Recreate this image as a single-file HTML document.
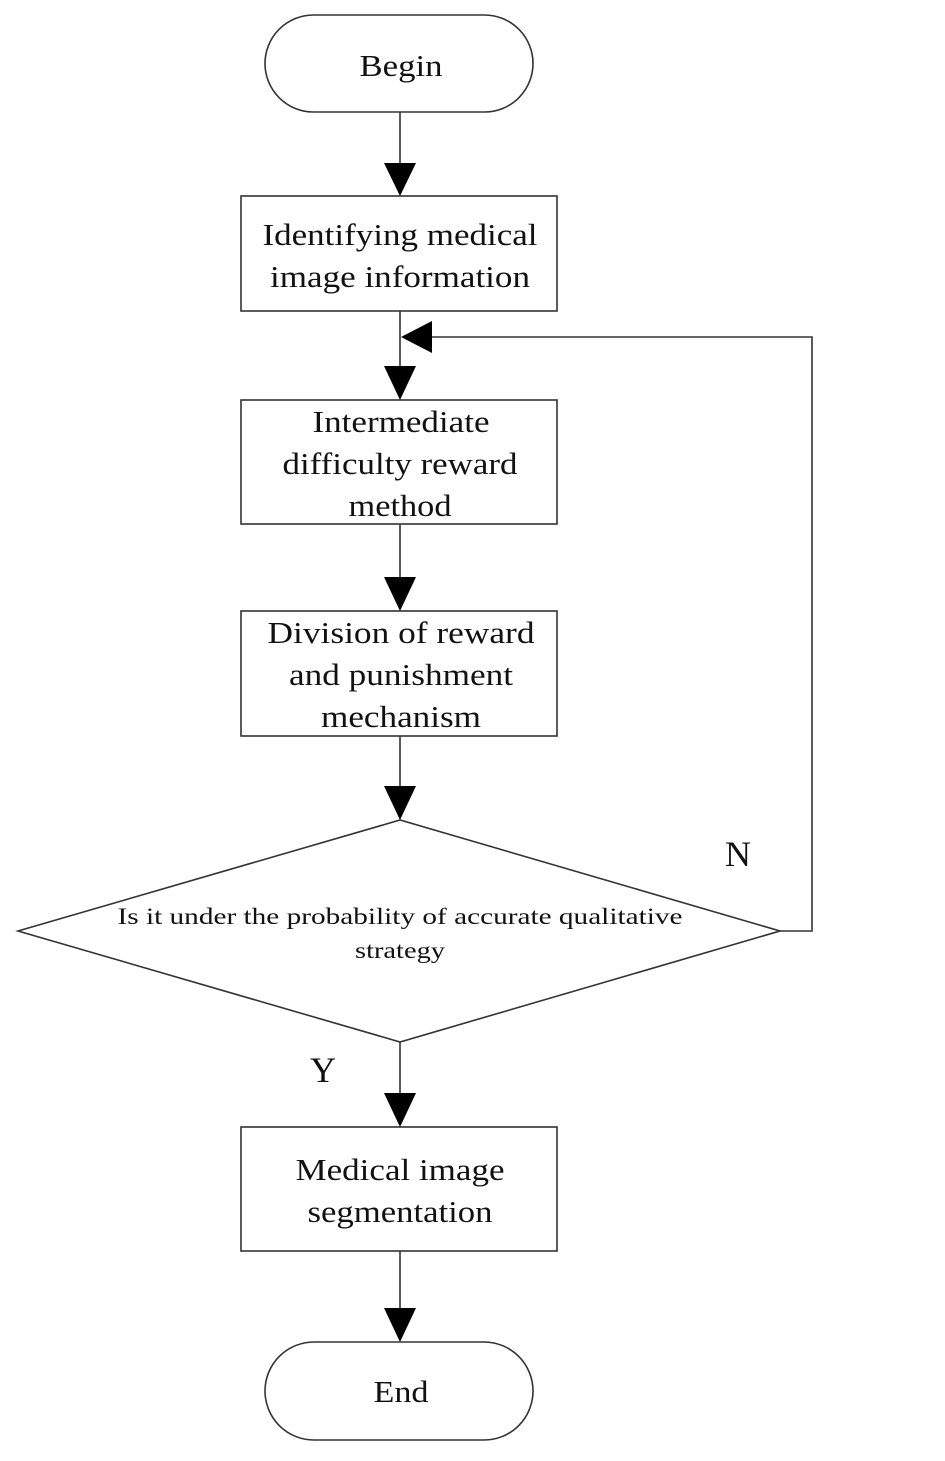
<!DOCTYPE html>
<html><head><meta charset="utf-8"><style>
html,body{margin:0;padding:0;background:#fff;}
svg{display:block;}
text{font-family:"Liberation Serif",serif;fill:#111;}
</style></head><body>
<svg width="945" height="1461" viewBox="0 0 945 1461" xmlns="http://www.w3.org/2000/svg">
<g stroke="#333" stroke-width="1.6" fill="none">
<rect x="265" y="15" width="268" height="97" rx="48.5"/>
<rect x="241" y="196" width="316" height="115"/>
<rect x="241" y="400" width="316" height="124"/>
<rect x="241" y="611" width="316" height="125"/>
<polygon points="400,820 18,931 400,1042 780,931"/>
<rect x="241" y="1127" width="316" height="124"/>
<rect x="265" y="1342" width="268" height="98" rx="49"/>
<line x1="400" y1="112" x2="400" y2="165"/>
<line x1="400" y1="311" x2="400" y2="368"/>
<line x1="400" y1="524" x2="400" y2="580"/>
<line x1="400" y1="736" x2="400" y2="790"/>
<line x1="400" y1="1042" x2="400" y2="1096"/>
<line x1="400" y1="1251" x2="400" y2="1310"/>
<polyline points="780,931 812,931 812,337 430,337"/>
</g>
<g fill="#000">
<polygon points="384,163 416,163 400,196"/>
<polygon points="384,366 416,366 400,400"/>
<polygon points="384,577 416,577 400,611"/>
<polygon points="384,786 416,786 400,820"/>
<polygon points="384,1093 416,1093 400,1127"/>
<polygon points="384,1308 416,1308 400,1342"/>
<polygon points="401,337 432,321 432,353"/>
</g>
<g font-size="31" text-anchor="middle" lengthAdjust="spacingAndGlyphs">
<text x="401" y="76" textLength="83" lengthAdjust="spacingAndGlyphs">Begin</text>
<text x="400" y="245" textLength="275" lengthAdjust="spacingAndGlyphs">Identifying medical</text>
<text x="400" y="287" textLength="260" lengthAdjust="spacingAndGlyphs">image information</text>
<text x="401" y="432" textLength="177" lengthAdjust="spacingAndGlyphs">Intermediate</text>
<text x="400" y="474" textLength="235" lengthAdjust="spacingAndGlyphs">difficulty reward</text>
<text x="400" y="516" textLength="103" lengthAdjust="spacingAndGlyphs">method</text>
<text x="401" y="643" textLength="267" lengthAdjust="spacingAndGlyphs">Division of reward</text>
<text x="401" y="685" textLength="224" lengthAdjust="spacingAndGlyphs">and punishment</text>
<text x="401" y="727" textLength="160" lengthAdjust="spacingAndGlyphs">mechanism</text>
<text x="400" y="1180" textLength="209" lengthAdjust="spacingAndGlyphs">Medical image</text>
<text x="400" y="1222" textLength="185" lengthAdjust="spacingAndGlyphs">segmentation</text>
<text x="401" y="1402" textLength="55" lengthAdjust="spacingAndGlyphs">End</text>
<text x="738" y="866" font-size="36">N</text>
<text x="323" y="1082" font-size="36">Y</text>
</g>
<g font-size="23" text-anchor="middle">
<text x="400" y="924" textLength="565" lengthAdjust="spacingAndGlyphs">Is it under the probability of accurate qualitative</text>
<text x="400" y="958" textLength="90" lengthAdjust="spacingAndGlyphs">strategy</text>
</g>
</svg>
</body></html>
